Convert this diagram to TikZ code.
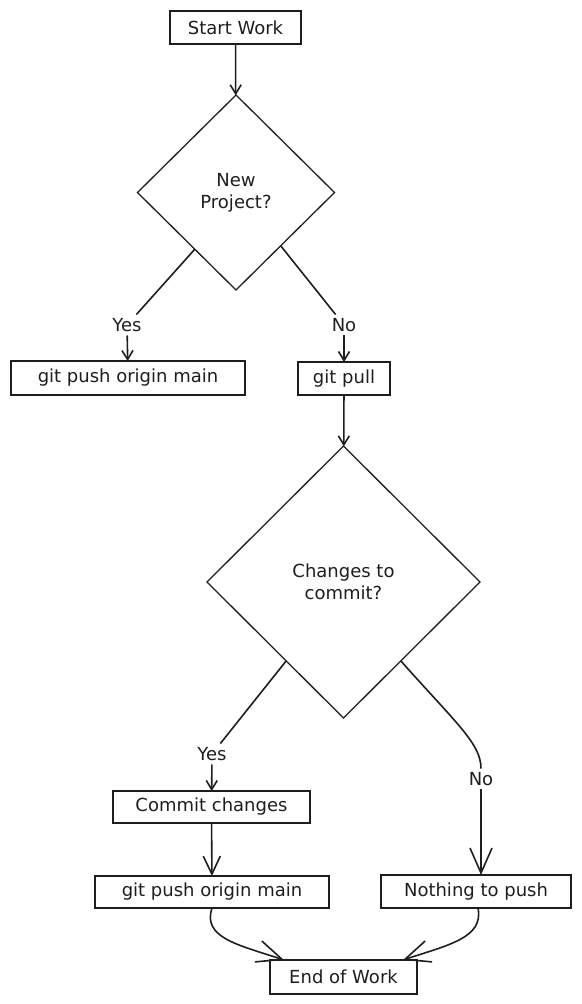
\documentclass[tikz,border=0pt]{standalone}
\usepackage{fontspec}
\setmainfont{DejaVu Sans}
\usetikzlibrary{shapes.geometric, arrows.meta, positioning}
\definecolor{ink}{HTML}{1E1E1E}

\begin{document}
\begin{tikzpicture}[x=1pt, y=-1pt, color=ink, line width=1.6pt,
    >={Straight Barb[length=9pt, width=11pt]},
    font=\fontsize{18}{22}\selectfont,
    box/.style={draw, rectangle, line width=1.8pt, inner sep=0pt, outer sep=0pt},
    decision/.style={draw, diamond, line width=1.3pt, inner sep=0pt, outer sep=0pt, align=center},
    answer/.style={inner sep=3pt},
    midhead/.style={-{Straight Barb[length=18pt, width=17pt]}},
    bighead/.style={-{Straight Barb[length=25pt, width=22pt]}}]
  \useasboundingbox (0,0) rectangle (581,1004);

  % Nodes
  \node[box, minimum width=131pt, minimum height=33pt] (start) at (235.5,27.5) {Start Work};
  \node[decision, minimum width=197pt, minimum height=195pt] (newproj) at (236,192.5) {New\\Project?};
  \node[box, minimum width=234pt, minimum height=34pt] (pushmain) at (128,378) {git push origin main};
  \node[box, minimum width=92pt, minimum height=33pt] (pull) at (344,378.5) {git pull};
  \node[decision, minimum width=273pt, minimum height=272pt] (changes) at (343.5,582) {Changes to\\commit?};
  \node[box, minimum width=197pt, minimum height=32pt] (commit) at (211.5,807) {Commit changes};
  \node[box, minimum width=234pt, minimum height=32pt] (pushtwo) at (212,892) {git push origin main};
  \node[box, minimum width=190pt, minimum height=33pt] (nothing) at (476,891.5) {Nothing to push};
  \node[box, minimum width=147pt, minimum height=34pt] (endw) at (343.5,977) {End of Work};

  % Answer labels
  \node[answer] (yesone) at (127,325) {Yes};
  \node[answer] (noone) at (344,325) {No};
  \node[answer] (yestwo) at (212,754) {Yes};
  \node[answer] (notwo) at (481,779) {No};

  % Connections
  \draw[->] (start) -- (newproj);
  \draw (newproj.234) -- (yesone);
  \draw[->] (yesone) -- (pushmain);
  \draw (newproj.310) -- (noone);
  \draw[->] (noone) -- (pull);
  \draw[->] (pull) -- (changes);
  \draw (changes.234) -- (yestwo);
  \draw[->] (yestwo) -- (commit);
  \draw (changes.306) .. controls +(55,62) and +(0,-25) .. (notwo.north);
  \draw[bighead] (notwo) -- (notwo |- nothing.north);
  \draw[midhead] (commit) -- (pushtwo);
  \draw[bighead] (pushtwo.south) .. controls +(-10,30) and +(-45,-15) .. ([xshift=14pt]endw.north west);
  \draw[bighead] ([xshift=2pt]nothing.south) .. controls +(6,30) and +(45,-15) .. ([xshift=-14pt]endw.north east);
\end{tikzpicture}
\end{document}
